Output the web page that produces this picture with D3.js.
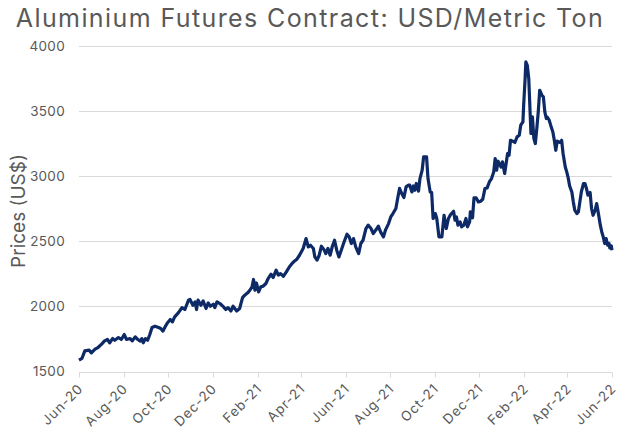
<!DOCTYPE html>
<html>
<head>
<meta charset="utf-8">
<script src="https://cdn.jsdelivr.net/npm/d3@7"></script>
<style>
  body { margin: 0; background: #fff; }
  svg { display: block; font-family: "Inter", "Roboto", sans-serif; }
</style>
</head>
<body>
<svg id="chart" width="619" height="432"></svg>
<script>
// aluminium futures
var dates = [
  "2020-06-01","2020-06-05","2020-06-09","2020-06-15","2020-06-18","2020-06-23","2020-06-27","2020-07-02","2020-07-06","2020-07-10",
  "2020-07-13","2020-07-17","2020-07-20","2020-07-25","2020-07-29","2020-08-02","2020-08-05","2020-08-10","2020-08-13","2020-08-17",
  "2020-08-20","2020-08-24","2020-08-26","2020-08-28","2020-08-31","2020-09-03","2020-09-06","2020-09-09","2020-09-13","2020-09-18",
  "2020-09-21","2020-09-24","2020-09-27","2020-09-30","2020-10-04","2020-10-07","2020-10-10","2020-10-15","2020-10-20","2020-10-24",
  "2020-10-29","2020-10-31","2020-11-04","2020-11-07","2020-11-09","2020-11-11","2020-11-15","2020-11-18","2020-11-22","2020-11-25",
  "2020-11-28","2020-12-02","2020-12-04","2020-12-07","2020-12-11","2020-12-16","2020-12-19","2020-12-22","2020-12-26","2020-12-29",
  "2021-01-03","2021-01-07","2021-01-11","2021-01-14","2021-01-18","2021-01-21","2021-01-24","2021-01-26","2021-01-28","2021-01-30",
  "2021-02-02","2021-02-05","2021-02-08","2021-02-12","2021-02-15","2021-02-19","2021-02-22","2021-02-26","2021-03-01","2021-03-04",
  "2021-03-08","2021-03-12","2021-03-16","2021-03-19","2021-03-22","2021-03-26","2021-03-30","2021-04-04","2021-04-08","2021-04-11",
  "2021-04-14","2021-04-18","2021-04-20","2021-04-23","2021-04-26","2021-04-29","2021-05-03","2021-05-05","2021-05-08","2021-05-11",
  "2021-05-14","2021-05-17","2021-05-20","2021-05-23","2021-05-27","2021-05-30","2021-06-03","2021-06-06","2021-06-09","2021-06-12",
  "2021-06-15","2021-06-19","2021-06-22","2021-06-25","2021-06-29","2021-07-02","2021-07-06","2021-07-09","2021-07-13","2021-07-16",
  "2021-07-19","2021-07-23","2021-07-26","2021-07-30","2021-08-02","2021-08-05","2021-08-09","2021-08-11","2021-08-14","2021-08-17",
  "2021-08-20","2021-08-23","2021-08-26","2021-08-28","2021-08-31","2021-09-02","2021-09-04","2021-09-06","2021-09-09","2021-09-11",
  "2021-09-14","2021-09-16","2021-09-20","2021-09-22","2021-09-25","2021-09-27","2021-09-29","2021-10-02","2021-10-04","2021-10-07",
  "2021-10-11","2021-10-14","2021-10-17","2021-10-20","2021-10-23","2021-10-27","2021-10-29","2021-10-31","2021-11-02","2021-11-05",
  "2021-11-07","2021-11-10","2021-11-13","2021-11-15","2021-11-18","2021-11-19","2021-11-22","2021-11-24","2021-11-27","2021-11-30",
  "2021-12-03","2021-12-06","2021-12-09","2021-12-12","2021-12-15","2021-12-18","2021-12-21","2021-12-23","2021-12-25","2021-12-27",
  "2021-12-31","2022-01-02","2022-01-05","2022-01-09","2022-01-11","2022-01-13","2022-01-16","2022-01-19","2022-01-22","2022-01-25",
  "2022-01-27","2022-01-30","2022-01-31","2022-02-02","2022-02-03","2022-02-05","2022-02-07","2022-02-09","2022-02-10","2022-02-12",
  "2022-02-14","2022-02-16","2022-02-18","2022-02-20","2022-02-22","2022-02-25","2022-02-27","2022-03-01","2022-03-03","2022-03-04",
  "2022-03-07","2022-03-09","2022-03-12","2022-03-14","2022-03-16","2022-03-18","2022-03-22","2022-03-24","2022-03-26","2022-03-29",
  "2022-03-31","2022-04-02","2022-04-04","2022-04-07","2022-04-09","2022-04-11","2022-04-14","2022-04-16","2022-04-18","2022-04-20",
  "2022-04-23","2022-04-25","2022-04-27","2022-04-29","2022-05-02","2022-05-04","2022-05-06","2022-05-09","2022-05-11","2022-05-13",
  "2022-05-16","2022-05-18","2022-05-20","2022-05-22","2022-05-24","2022-05-26","2022-05-28","2022-05-29","2022-05-31","2022-06-01"
];
var prices = [
  1587,1600,1658,1664,1643,1671,1684,1710,1735,1746,
  1720,1753,1740,1761,1746,1784,1746,1753,1735,1766,
  1748,1733,1753,1720,1753,1740,1784,1838,1848,1838,
  1830,1810,1843,1873,1899,1881,1919,1950,1991,1976,
  2048,2053,2009,2035,1976,2048,2009,2042,1984,2027,
  2001,2017,1991,2035,2022,1996,1976,1991,1965,2001,
  1965,1984,2068,2086,2104,2124,2150,2207,2124,2180,
  2111,2150,2155,2176,2214,2247,2222,2278,2240,2252,
  2232,2265,2303,2324,2342,2360,2393,2445,2521,2457,
  2470,2445,2380,2355,2393,2462,2432,2406,2445,2393,
  2462,2508,2432,2380,2445,2495,2554,2534,2483,2521,
  2457,2406,2483,2508,2598,2624,2598,2560,2590,2616,
  2572,2534,2590,2636,2687,2713,2752,2816,2906,2867,
  2836,2918,2931,2931,2879,2925,2892,2944,2885,2982,
  3046,3148,3148,2982,2879,2875,2675,2713,2675,2534,
  2534,2700,2598,2675,2706,2731,2662,2687,2624,2649,
  2611,2624,2675,2611,2649,2726,2680,2833,2833,2803,
  2808,2823,2906,2910,2956,2982,3033,3136,3046,3115,
  3071,3110,3021,3174,3161,3276,3269,3259,3302,3315,
  3392,3417,3545,3750,3878,3852,3750,3468,3328,3455,
  3289,3251,3366,3494,3660,3622,3609,3494,3443,3455,
  3430,3392,3340,3276,3199,3269,3259,3276,3174,3071,
  3033,2987,2925,2879,2803,2739,2713,2726,2803,2879,
  2944,2944,2906,2854,2875,2752,2700,2739,2790,2726,
  2624,2572,2534,2483,2521,2470,2483,2449,2465,2432
];
var yTicks = [1500, 2000, 2500, 3000, 3500, 4000];
var title = "Aluminium Futures Contract: USD/Metric Ton";
var yTitle = "Prices (US$)";

var W = 619, H = 432;
var margin = {top: 46, right: 7, bottom: 60.5, left: 79};
var iw = W - margin.left - margin.right;
var ih = H - margin.top - margin.bottom;

var parse = d3.timeParse("%Y-%m-%d");
var data = dates.map(function(d, i) { return {date: parse(d), price: prices[i]}; });

var svg = d3.select("#chart");
var g = svg.append("g").attr("transform", "translate(" + margin.left + "," + margin.top + ")");

var start = parse("2020-06-01"), end = parse("2022-06-01");
var x = d3.scaleTime().domain([start, end]).range([0, iw]);
var y = d3.scaleLinear().domain([1500, 4000]).range([ih, 0]);

// gridlines
g.selectAll(".grid").data(yTicks).enter().append("line")
    .attr("x1", 0).attr("x2", iw)
    .attr("y1", function(d) { return Math.round(y(d)) + 0.5; })
    .attr("y2", function(d) { return Math.round(y(d)) + 0.5; })
    .attr("stroke", "#d9d9d9").attr("stroke-width", 1);

// y tick labels
g.selectAll(".ylab").data(yTicks).enter().append("text")
    .attr("x", -14).attr("y", function(d) { return y(d); })
    .attr("dy", "0.36em").attr("text-anchor", "end")
    .attr("fill", "#595959").style("font-size", "13.5px").style("letter-spacing", "0.3px")
    .text(function(d) { return d; });

// x axis
var xTicks = d3.timeMonth.range(start, d3.timeDay.offset(end, 1), 2);
var fmt = d3.timeFormat("%b-%y");
var xa = g.append("g").attr("transform", "translate(0," + (Math.round(ih) + 0.5) + ")");
xa.selectAll(".xt").data(xTicks).enter().append("line")
    .attr("x1", function(d) { return Math.round(x(d)) + 0.5; })
    .attr("x2", function(d) { return Math.round(x(d)) + 0.5; })
    .attr("y1", 0).attr("y2", 5)
    .attr("stroke", "#d9d9d9");
xa.selectAll(".xl").data(xTicks).enter().append("text")
    .attr("transform", function(d) { return "translate(" + (x(d) + 5) + ",17) rotate(-45)"; })
    .attr("text-anchor", "end")
    .attr("fill", "#595959").style("font-size", "13.5px").style("letter-spacing", "0.9px")
    .text(function(d) { return fmt(d); });

// price line
var line = d3.line()
    .x(function(d) { return x(d.date); })
    .y(function(d) { return y(d.price); });
g.append("path").datum(data)
    .attr("d", line)
    .attr("fill", "none")
    .attr("stroke", "#0d2a66")
    .attr("stroke-width", 3.2)
    .attr("stroke-linejoin", "round");

// titles
svg.append("text")
    .attr("x", 310).attr("y", 27)
    .attr("text-anchor", "middle")
    .attr("fill", "#595959").style("font-size", "25px").style("letter-spacing", "1.4px")
    .text(title);

svg.append("text")
    .attr("transform", "translate(25,211) rotate(-90)")
    .attr("text-anchor", "middle")
    .attr("fill", "#595959").style("font-size", "19px")
    .text(yTitle);
</script>
</body>
</html>
